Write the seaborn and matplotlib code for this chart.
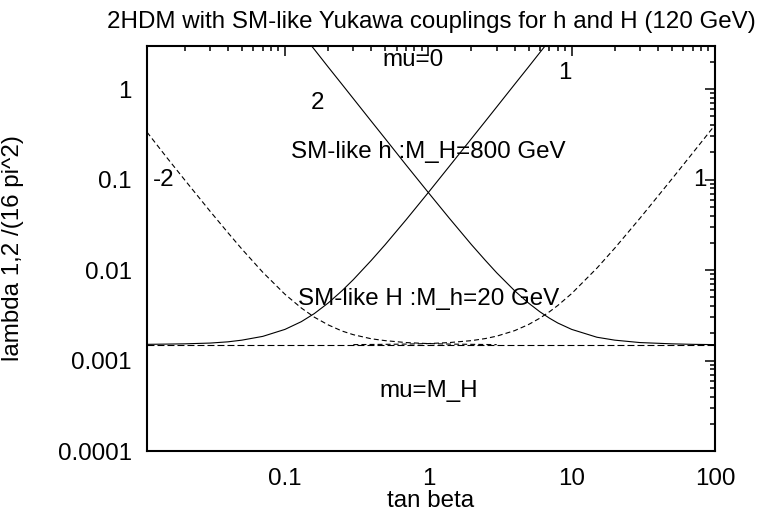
import numpy as np
import pandas as pd
import seaborn as sns
import matplotlib
matplotlib.use("Agg")
import matplotlib.pyplot as plt
from matplotlib.ticker import LogLocator, FuncFormatter, NullFormatter

# values (log-log axes)
# solid curve "1" (mu=0, rising with tan beta)
tb_h1 = [0.0109, 0.015, 0.02, 0.03, 0.04, 0.05, 0.07, 0.1, 0.13, 0.16, 0.2, 0.25, 0.3,
         0.4, 0.5, 0.7, 1, 1.4, 2, 2.5, 3, 4, 5, 6, 7, 8]
lam_h1 = [0.00151, 0.00152, 0.00153, 0.00156, 0.00161, 0.00168, 0.00185, 0.00221, 0.00269,
          0.0033, 0.00432, 0.00591, 0.00785, 0.0128, 0.0191, 0.036, 0.072, 0.14, 0.284,
          0.442, 0.636, 1.13, 1.76, 2.54, 3.45, 4.51]

# solid curve "2" (mu=0, falling)
tb_h2 = [0.12, 0.13, 0.16, 0.2, 0.25, 0.3, 0.4, 0.5, 0.7, 1, 1.4, 2, 2.5, 3, 4, 5, 6, 7, 8,
         10, 15, 20, 30, 50, 70, 100]
lam_h2 = [4.9, 4.17, 2.76, 1.76, 1.13, 0.785, 0.442, 0.284, 0.145, 0.072, 0.0375, 0.0191,
          0.0128, 0.00933, 0.00591, 0.00432, 0.00346, 0.00294, 0.0026, 0.00221, 0.00181,
          0.00168, 0.00158, 0.00153, 0.00151, 0.0015]

# dashed curve "-2" (falling)
tb_H2 = [0.0109, 0.015, 0.02, 0.03, 0.04, 0.05, 0.07, 0.1, 0.13, 0.16, 0.2, 0.25, 0.3, 0.4,
         0.5, 0.7, 1, 1.4, 2, 3]
lam_H2 = [0.335, 0.175, 0.099, 0.0448, 0.0259, 0.0171, 0.00946, 0.0054, 0.00381, 0.00302,
          0.00248, 0.00212, 0.00193, 0.00174, 0.00166, 0.00158, 0.00154, 0.00152, 0.00151,
          0.0015]

# dashed curve "1" (rising)
tb_H1 = [0.3, 0.5, 0.7, 1, 1.4, 2, 2.5, 3, 4, 5, 6, 7, 8, 10, 15, 20, 30, 50, 70, 100]
lam_H1 = [0.0015, 0.00151, 0.00152, 0.00154, 0.00158, 0.00166, 0.00175, 0.00186, 0.00214,
          0.0025, 0.00294, 0.00346, 0.00406, 0.0055, 0.0105, 0.0175, 0.0375, 0.1015,
          0.1975, 0.4015]

# mu=M_H : flat line
tb_flat = [0.0109, 100]
lam_flat = [0.0015, 0.0015]

sns.set_theme(style="white")
plt.rcParams['font.family'] = ['Liberation Sans', 'DejaVu Sans']
plt.rcParams['lines.scale_dashes'] = False
plt.rcParams['text.color'] = 'black'
plt.rcParams['axes.labelcolor'] = 'black'

fig, ax = plt.subplots(figsize=(7.62, 5.12), dpi=100)
fig.subplots_adjust(left=147/762, right=715/762, top=1-46/512, bottom=1-451/512)

lw = 0.8
sns.lineplot(x=tb_h1, y=lam_h1, ax=ax, color='black', lw=lw)
sns.lineplot(x=tb_h2, y=lam_h2, ax=ax, color='black', lw=lw)
sns.lineplot(x=tb_H2, y=lam_H2, ax=ax, color='black', lw=lw, linestyle=(0, (3.6, 2.2)))
sns.lineplot(x=tb_H1, y=lam_H1, ax=ax, color='black', lw=lw, linestyle=(0, (3.6, 2.2)))
sns.lineplot(x=tb_flat, y=lam_flat, ax=ax, color='black', lw=lw, linestyle=(0, (5, 2.2)))

ax.set_xscale('log')
ax.set_yscale('log')
ax.set_xlim(0.0109, 100)
ax.set_ylim(0.0001, 3)

fs = 17.4
ax.xaxis.set_major_locator(LogLocator(base=10, numticks=10))
ax.xaxis.set_minor_locator(LogLocator(base=10, subs=np.arange(2, 10), numticks=20))
ax.yaxis.set_major_locator(LogLocator(base=10, numticks=10))
ax.yaxis.set_minor_locator(LogLocator(base=10, subs=np.arange(2, 10), numticks=20))
fmt = FuncFormatter(lambda v, p: '%g' % v)
ax.xaxis.set_major_formatter(fmt)
ax.yaxis.set_major_formatter(fmt)
ax.xaxis.set_minor_formatter(NullFormatter())
ax.yaxis.set_minor_formatter(NullFormatter())

ax.tick_params(which='both', direction='in', top=True, right=True, colors='black',
               labelcolor='black', labelsize=fs, width=1.1)
ax.tick_params(which='major', length=7)
ax.tick_params(which='minor', length=3.5)
ax.tick_params(axis='x', which='major', pad=12)
ax.tick_params(axis='y', which='major', pad=11)
for s in ax.spines.values():
    s.set_color('black')
    s.set_linewidth(1.5)

ax.set_title('2HDM with SM-like Yukawa couplings for h and H (120 GeV)', fontsize=fs,
             pad=13, color='black')
ax.set_xlabel('tan beta', fontsize=fs)
ax.set_ylabel('lambda 1,2 /(16 pi^2)', fontsize=fs)
ax.xaxis.label.set_va('center')
ax.yaxis.label.set_va('center')
ax.xaxis.set_label_coords(0.5, (451 - 501) / 405)
ax.yaxis.set_label_coords((13 - 147) / 568, 0.5)

# curve labels
labels = [
    (0.169, 0.70, '2'),
    (9.0, 1.5, '1'),
    (0.786, 2.09, 'mu=0'),
    (1.0, 0.204, 'SM-like h :M_H=800 GeV'),
    (0.0142, 0.1, '-2'),
    (78.6, 0.1, '1'),
    (1.0, 0.00484, 'SM-like H :M_h=20 GeV'),
    (1.0, 0.000466, 'mu=M_H'),
]
for x, y, t in labels:
    ax.text(x, y, t, fontsize=fs, ha='center', va='center', color='black')

fig.savefig('out.png', dpi=100)
